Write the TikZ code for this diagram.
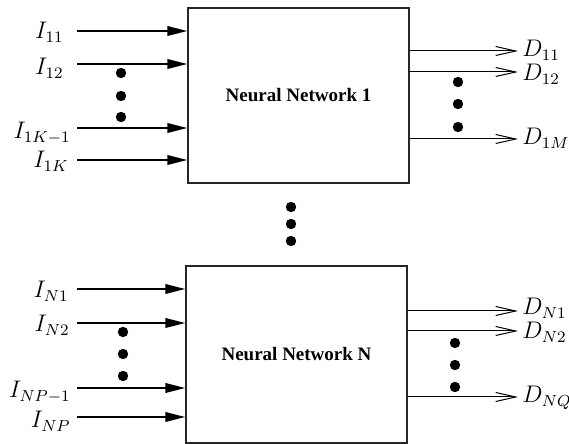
\documentclass[tikz,border=0pt]{standalone}
\usepackage{amsmath}
\usepackage{fontspec}
\newfontfamily\nnfont{Liberation Serif}
\usetikzlibrary{arrows.meta}

\begin{document}
\begin{tikzpicture}[x=0.5pt,y=-0.5pt]
\tikzstyle{every node}+=[inner sep=0pt]
\tikzstyle{netbox}=[draw=black!85, line width=0.7pt, minimum width=110.5pt, font=\nnfont\bfseries\fontsize{9.5}{11}\selectfont]
\tikzstyle{inarrow}=[line width=0.9pt, -{Triangle[length=10pt,width=4.8pt]}]
\tikzstyle{outarrow}=[line width=0.5pt, -{Straight Barb[length=10pt,width=4.5pt]}]
\tikzstyle{lbl}=[font=\fontsize{11.5}{13}\selectfont]
\useasboundingbox (0,0) rectangle (569,444);
% the two networks
\node [netbox, minimum height=87.5pt] (nn1) at (298.5,95.5) {Neural Network 1};
\node [netbox, minimum height=88.5pt] (nnN) at (296.5,354.5) {Neural Network N};
% inputs of network 1
\node [lbl, anchor=base east] (I11) at (64,39) {$I_{11}$};
\node [lbl, anchor=base east] (I12) at (64,75) {$I_{12}$};
\node [lbl, anchor=base east] (I1K1) at (71,139) {$I_{1K-1}$};
\node [lbl, anchor=base east] (I1K) at (69,168) {$I_{1K}$};
\coordinate (a11) at (77,31);
\coordinate (a12) at (77,64);
\coordinate (a1K1) at (77,128);
\coordinate (a1K) at (77,160);
\foreach \a in {a11,a12,a1K1,a1K}
  \draw [inarrow] (\a) -- (\a -| nn1.west);
% outputs of network 1
\node [lbl, anchor=base west] (D11) at (522,57) {$D_{11}$};
\node [lbl, anchor=base west] (D12) at (522,81) {$D_{12}$};
\node [lbl, anchor=base west] (D1M) at (522,145) {$D_{1M}$};
\coordinate (b11) at (518,51);
\coordinate (b12) at (518,72);
\coordinate (b1M) at (518,139);
\foreach \b in {b11,b12,b1M}
  \draw [outarrow] (\b -| nn1.east) -- (\b);
% inputs of network N
\node [lbl, anchor=base east] (IN1) at (69,298) {$I_{N1}$};
\node [lbl, anchor=base east] (IN2) at (70,332) {$I_{N2}$};
\node [lbl, anchor=base east] (INP1) at (71,398) {$I_{NP-1}$};
\node [lbl, anchor=base east] (INP) at (71,428) {$I_{NP}$};
\coordinate (aN1) at (77,289);
\coordinate (aN2) at (77,323);
\coordinate (aNP1) at (77,388);
\coordinate (aNP) at (77,417);
\foreach \a in {aN1,aN2,aNP1,aNP}
  \draw [inarrow] (\a) -- (\a -| nnN.west);
% outputs of network N
\node [lbl, anchor=base west] (DN1) at (522,315) {$D_{N1}$};
\node [lbl, anchor=base west] (DN2) at (522,339) {$D_{N2}$};
\node [lbl, anchor=base west] (DNQ) at (522,403) {$D_{NQ}$};
\coordinate (bN1) at (518,311);
\coordinate (bN2) at (518,331);
\coordinate (bNQ) at (518,397);
\foreach \b in {bN1,bN2,bNQ}
  \draw [outarrow] (\b -| nnN.east) -- (\b);
% dots
\foreach \y in {73,96,117} \fill (121,\y) circle [radius=2.6pt];
\foreach \y in {82,104,127} \fill (458,\y) circle [radius=2.6pt];
\foreach \y in {207,224,241} \fill (291,\y) circle [radius=2.6pt];
\foreach \y in {332,354,376} \fill (123,\y) circle [radius=2.6pt];
\foreach \y in {343,365,387} \fill (455,\y) circle [radius=2.6pt];
\end{tikzpicture}
\end{document}
